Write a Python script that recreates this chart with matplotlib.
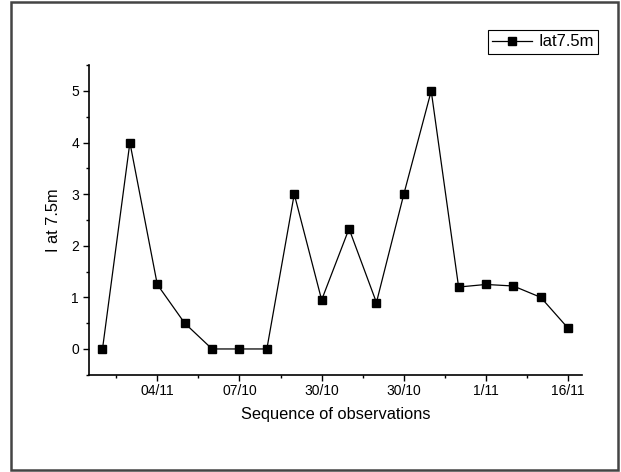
import numpy as np
import matplotlib.pyplot as plt
from matplotlib.patches import Rectangle
from matplotlib.ticker import MultipleLocator

plt.rcParams['font.family'] = ['Liberation Sans', 'DejaVu Sans']

# observation index and measured values
obs = list(range(1, 19))
iat = [0, 4, 1.25, 0.5, 0, 0, 0, 3, 0.95, 2.33, 0.9, 3, 5, 1.2, 1.25, 1.22, 1.0, 0.4]
tick_pos = [3, 6, 9, 12, 15, 18]
tick_labels = ['04/11', '07/10', '30/10', '30/10', '1/11', '16/11']

fig = plt.figure(figsize=(6.21, 4.72), dpi=100)
ax = fig.add_axes([0.143, 0.206, 0.794, 0.656])

line, = ax.plot(obs, iat, color='black', linewidth=0.9, marker='s',
                markersize=5.5, markerfacecolor='black', label='Iat7.5m')

ax.set_xlim(0.5, 18.5)
ax.set_ylim(-0.5, 5.5)
ax.set_xticks(tick_pos)
ax.set_xticklabels(tick_labels)
ax.xaxis.set_minor_locator(MultipleLocator(1.5))
ax.set_yticks([0, 1, 2, 3, 4, 5])
ax.yaxis.set_minor_locator(MultipleLocator(0.5))

ax.spines['top'].set_visible(False)
ax.spines['right'].set_visible(False)
for s in ['left', 'bottom']:
    ax.spines[s].set_linewidth(1.2)
ax.tick_params(which='major', direction='out', length=4, width=1, labelsize=10, pad=3)
ax.tick_params(which='minor', direction='out', length=2.5, width=1)

ax.set_xlabel('Sequence of observations', fontsize=11.8, labelpad=6)
ax.set_ylabel('I at 7.5m', fontsize=11.8, labelpad=7)

leg = fig.legend(handles=[line], loc='upper right', bbox_to_anchor=(0.963, 0.936),
                 fancybox=False, edgecolor='black', fontsize=12, framealpha=1,
                 handlelength=2.4, handletextpad=0.4, borderpad=0.25,
                 borderaxespad=0)
leg.get_frame().set_linewidth(0.8)

# outer frame around the whole figure
fig.patches.append(Rectangle((0.017, 0.005), 0.978, 0.99, transform=fig.transFigure,
                             fill=False, edgecolor='#444444', linewidth=1.8))

fig.savefig('out.png', dpi=100)
